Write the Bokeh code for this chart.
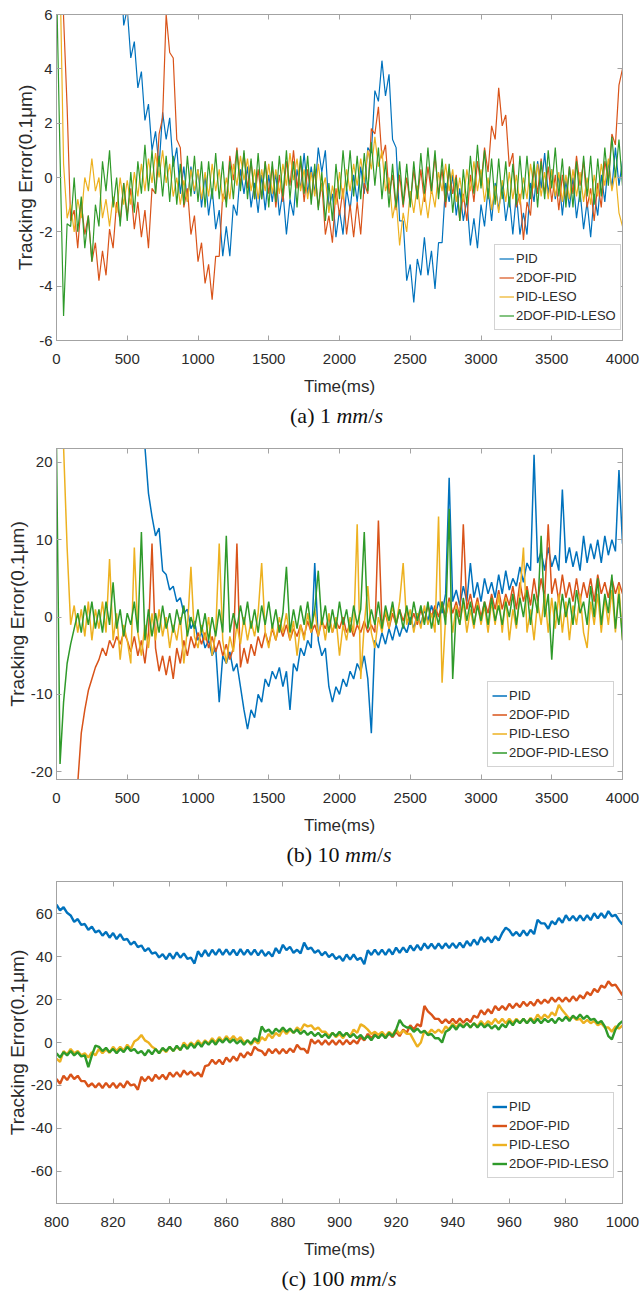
from bokeh.plotting import figure
from bokeh.layouts import column
from bokeh.models import Range1d, FixedTicker, LinearAxis, Legend, LegendItem, Div
from bokeh.embed import file_html
from bokeh.resources import INLINE

names = ["PID", "2DOF-PID", "PID-LESO", "2DOF-PID-LESO"]
colors = ["#0072BD", "#D95319", "#EDB120", "#2F9A2A"]

# ---------------- panel (a): 1 mm/s ----------------
time_a = list(range(0, 4001, 25))
pid_a = [
    40.6, 37.4, 35.6, 31.4, 29.6, 25.4, 24.6, 21.4, 20.6, 17.4,
    17.1, 14.4, 14.6, 12.4, 12.1, 9.9, 10.1, 7.9, 8.1, 5.6,
    6.2, 4.4, 5.0, 3.3, 3.9, 2.1, 2.7, 1.0, 1.7, 0.4,
    2.4, 1.4, 2.2, 0.4, 1.1, -0.6, 0.4, -0.9, 0.4, -0.6,
    0.3, -1.1, 0.1, -1.4, -0.4, -1.9, -1.2, -2.9, -1.8, -2.9,
    -1.0, -1.4, 0.3, -0.6, 0.4, -1.1, -0.2, -1.3, 0.1, -1.2,
    0.1, -0.9, 0.2, -1.4, -0.5, -2.1, -0.8, -1.4, 0.3, -0.4,
    0.9, -0.6, 0.4, -0.6, 1.1, 0.2, 1.0, -1.1, -0.6, -2.2,
    -1.2, -2.1, -0.4, -1.2, 0.1, -0.9, 0.4, -0.6, 1.1, 0.9,
    3.2, 2.8, 4.3, 3.0, 3.8, 1.4, 1.1, -1.6, -1.6, -3.8,
    -3.2, -4.6, -3.0, -3.6, -2.2, -3.6, -2.7, -4.1, -2.4, -2.4,
    -0.2, -0.9, 0.1, -1.4, -0.4, -1.6, -0.8, -2.5, -1.5, -2.6,
    -1.0, -1.8, -0.4, -1.6, -0.2, -1.2, -0.2, -1.6, -0.7, -2.1,
    -0.6, -2.1, -1.3, -2.1, -0.2, -0.9, 0.6, -0.4, 0.9, -0.6,
    0.3, -0.8, 0.1, -1.4, -0.1, -1.1, 0.0, -1.5, -0.5, -1.9,
    -0.9, -2.2, -0.6, -1.4, 0.1, -0.9, 0.6, -0.4, 1.1, -0.3,
    0.6]
dof_a = [
    19.4, 15.6, 5.9, 2.6, -1.6, -1.2, -2.6, -0.9, -2.1, -1.4,
    -3.1, -2.4, -3.8, -2.7, -3.6, -1.9, -2.6, -0.9, -1.6, -0.2,
    -1.4, -0.4, -1.9, -0.9, -2.2, -1.2, -2.6, -0.4, -0.6, 1.6,
    2.2, 6.0, 4.6, 4.4, 1.4, 1.1, -1.1, -0.4, -2.1, -1.4,
    -3.1, -2.4, -3.9, -3.2, -4.5, -2.9, -2.9, -0.6, -0.9, 0.8,
    -0.1, 1.1, -0.3, 0.9, -0.4, 0.6, -0.8, 0.3, -0.8, 0.6,
    -0.6, 0.4, -1.1, 0.1, -0.9, 0.6, -0.3, 1.0, -0.4, 0.6,
    -0.9, 0.3, -0.8, 0.3, -1.1, -0.2, -2.1, -1.4, -2.4, -0.4,
    -1.4, -0.4, -2.1, -1.0, -2.2, -0.9, -2.1, -0.2, -0.6, 1.8,
    1.6, 2.6, 0.7, 1.2, -0.6, 0.1, -1.2, 0.1, -1.1, 0.0,
    -1.0, 0.3, -0.8, 0.3, -0.9, 0.4, -0.6, 0.8, -0.6, 0.3,
    -1.1, 0.3, -0.6, 0.1, -1.6, -0.6, -1.6, 0.1, -0.9, 0.6,
    -0.3, 1.1, 0.2, 1.9, 1.4, 3.3, 1.9, 2.3, 0.4, 0.9,
    -1.1, -0.6, -2.3, -0.9, -1.4, 0.4, -0.6, 0.7, -0.6, 0.4,
    -0.9, 0.1, -1.2, 0.1, -0.9, 0.4, -0.6, 0.8, -0.3, 0.6,
    -1.1, -0.4, -1.6, -0.2, -1.1, 0.6, -0.1, 1.6, 1.2, 3.4,
    4.0]
leso_a = [
    15.5, 7.5, 0.5, -1.5, -1.0, -2.0, -0.8, -1.5, 0.0, -0.5,
    0.7, -0.5, 0.0, -1.5, -0.8, -1.8, -0.7, -1.3, 0.0, -1.0,
    -0.1, -1.0, 0.2, -0.7, 0.5, -0.5, 0.7, -0.2, 0.9, 0.0,
    1.0, -0.2, 0.5, -0.7, 0.0, -1.0, -0.1, -0.9, 0.3, -0.5,
    0.3, -0.8, 0.2, -0.7, 0.5, -0.5, 0.3, -0.9, 0.0, -0.8,
    0.5, -0.3, 0.8, -0.1, 0.7, -0.5, 0.3, -0.8, 0.3, -0.5,
    0.5, -0.6, 0.3, -0.6, 0.5, -0.3, 0.9, -0.1, 0.7, -0.5,
    0.3, -0.8, 0.2, -0.7, 0.5, -0.5, 0.0, -1.3, -0.3, -1.0,
    0.2, -0.8, 0.3, -0.5, 0.5, -0.3, 0.7, -0.2, 1.0, 0.3,
    1.5, 0.4, 1.0, -0.5, 0.0, -1.5, -0.8, -2.5, -1.3, -2.0,
    -0.5, -1.3, -0.3, -1.4, -0.5, -1.5, -0.4, -1.1, 0.2, -0.5,
    0.5, -0.5, 0.3, -0.9, 0.0, -0.9, 0.3, -0.5, 0.6, -0.5,
    0.3, -0.9, 0.0, -1.2, -0.3, -1.3, -0.1, -0.9, 0.2, -0.8,
    0.1, -1.0, 0.0, -0.8, 0.5, -0.4, 0.5, -0.7, 0.2, -0.8,
    0.3, -0.7, 0.2, -0.9, 0.1, -0.8, 0.3, -0.7, 0.2, -0.9,
    0.0, -1.0, 0.1, -0.7, 0.5, -0.3, 0.7, -0.5, 0.2, -1.3,
    -1.8]
dofleso_a = [
    7.2, 0.8, -5.1, -1.7, -1.8, 0.0, -2.0, -0.7, -2.6, -1.4,
    -3.1, -1.0, -1.8, 0.6, -0.5, 1.0, -1.1, 0.0, -1.8, -0.2,
    -1.6, 0.2, -1.3, 0.6, -0.6, 1.2, -0.5, 1.0, -0.6, 0.8,
    -0.7, 0.8, -0.9, 0.8, -1.0, 0.5, -1.0, 0.8, -0.7, 0.8,
    -0.9, 0.6, -1.1, 0.6, -0.8, 0.9, -0.8, 0.6, -1.1, 0.6,
    -0.8, 1.0, -0.5, 1.0, -0.8, 0.7, -0.8, 0.9, -0.8, 0.6,
    -1.1, 0.6, -0.9, 0.8, -0.7, 1.0, -0.8, 0.6, -1.1, 0.8,
    -0.6, 0.8, -1.0, 0.5, -1.2, 0.2, -1.6, -0.2, -1.6, 0.5,
    -0.8, 1.0, -0.5, 1.0, -0.7, 0.8, -0.8, 0.9, -0.5, 1.3,
    -0.3, 1.1, -0.8, 0.6, -1.1, 0.5, -1.1, 0.6, -1.0, 0.5,
    -1.1, 0.6, -0.8, 0.9, -0.6, 1.1, -0.5, 1.0, -0.8, 0.7,
    -0.9, 0.5, -1.3, 0.0, -1.6, 0.3, -1.0, 0.8, -0.6, 1.2,
    -0.4, 1.0, -0.8, 0.7, -1.0, 0.7, -0.8, 0.6, -1.1, 0.5,
    -1.0, 0.8, -0.8, 0.8, -0.8, 0.6, -1.1, 0.6, -0.8, 1.0,
    -0.4, 1.1, -0.7, 0.7, -1.1, 0.4, -1.1, 0.6, -0.9, 0.8,
    -0.7, 0.8, -1.0, 0.7, -0.7, 1.1, -0.3, 1.5, 0.0, 1.4,
    -0.3]

# ---------------- panel (b): 10 mm/s ----------------
time_b = list(range(0, 4001, 25))
pid_b = [
    60, 57, 54, 51, 48, 46, 44, 42, 40, 38,
    37, 35, 34, 33, 32, 31, 30, 29, 28, 27,
    26, 25, 24.5, 24, 23, 22, 16, 13, 10.5, 11.5,
    6, 5.5, 3.5, 4, 2, 2.5, 0.5, 1, -1.5, -0.5,
    -3, -2, -4, -3, -5, -4, -11, -5, -6, -4.5,
    -7, -6, -9, -12, -14.5, -12, -13, -10, -11, -8,
    -9, -7, -8, -6.5, -9, -7, -12, -6, -7, -4,
    -5, -3, -4, 7, -3, -5, -4, -9, -11, -9,
    -10, -8, -9, -7, -8, -6, -7, -5, -8, -15,
    -3, -4, -2, -3.5, -1.5, -3, -1, -2.5, -1, -2,
    0, -1.5, 0.5, -1, 1, -0.5, 1.5, 0, 2, 0.5,
    3, 18, 2, 3.5, 1.5, 4, 2, 7, 2.5, 4.5,
    2, 5, 3, 4.5, 2.5, 5.5, 3, 6, 3.5, 5,
    4, 6.5, 4.5, 7, 6, 21, 7, 8.5, 6, 9,
    6.5, 8, 6, 16.5, 7, 9, 6.5, 8.5, 6, 10.5,
    7, 9.5, 7.5, 10, 7, 10.5, 8, 10, 8.5, 19,
    9.5]
dof_b = [
    -60, -55, -50, -44, -38, -30, -21.5, -15, -12, -9.5,
    -8, -6.5, -5.5, -4, -5, -3, -4, -2.5, -3.5, -2,
    -3, -4.5, -2.5, -5, -3, -6, -2, 9.5, -4, -7,
    -5, -7.5, -5, -8, -4, -6, -3, -5, -2.5, -4,
    -2, -3.5, -2, -4, -2.5, -4.5, -3, -5, -3.5, -5.5,
    -4, 9.5, -6.5, -4, -6, -3.5, -5, -2.5, -4, -2,
    -3.5, -1.5, -3, -1, -2.5, -1, -3, -1.5, -2.5, -1,
    -2.5, -0.5, -2, -1, -2.5, -0.5, -1.5, 0, -2, -0.5,
    -1.5, 0, -2, -1, -2.5, -1, -2, -0.5, -2, -1,
    -2, 12.5, -1, 0.5, -1.5, 0.5, -1, 1, -0.5, 1,
    -1, 0.5, -1, 1, -0.5, 1.5, 0, 1.5, 0, 2,
    0, 2.5, 0.5, 2, 0, 12, 1, 3, 0.5, 2.5,
    0, 2, 0.5, 3, 1, 3.5, 1, 3, 1.5, 4,
    1, 4.5, 2, 4, 1.5, 5, 2, 5, 2.5, 12,
    3, 5, 2, 5.5, 2.5, 4.5, 2, 5, 2, 4.5,
    2.5, 5, 2, 5.5, 3, 4.5, 2.5, 5, 3, 4.5,
    3]
leso_b = [
    40, 32, 22, 9, -1, 1.5, -2, 1, -2.5, 2,
    -3, 1, -1.5, 2, -2, 7.5, -3, 0.5, -5.5, -1,
    -3, -6, 9, -2, -5, -1, -4, 0.5, -3, 1,
    -2.5, 0, -4, -1, -3, 0, -6, -1.5, 6.5, -2.5,
    -4, -1, -3, 0, -5, -2, 9.5, -3, -6, -2.5,
    -4.5, -1, -3.5, 0, -3, -0.5, -2.5, 0.5, 7, -2,
    -4, -1, -3, 0, -2, 0.5, -3, -0.5, -5, -1,
    -3, 0.5, -2, 1, -2.5, 0, -3, 0.5, -2, 0,
    -5, -1, -3, 0, -2, 12, -8, -1, 4, -2,
    -4, 0, -2, 1, -1.5, 1.5, -1, 2, 7, -1,
    1, -2, 0.5, -1.5, 1.5, -1, 0.5, -2, 13, -8.5,
    0, 2, -2, 1.5, -1, 2, -2, 1, -1.5, 2,
    -1, 1.5, -2, 2, -1, 3, -2, 2.5, -3, 1,
    -1.5, 3, 9, -2, 1, -3, 2, -1, 3, -2,
    2.5, -1.5, 3, -2, 2, -3, 1.5, -1, 3, -2,
    -4, 2, -1, 3, -2, 2.5, -1, 3.5, -2, 4,
    -3]
dofleso_b = [
    22, -19, -11, -6, -3.5, -1.5, 0.5, -2, 1.5, -1,
    2, -1.5, 1, -2, 2, -1, 4.5, -1.5, 1, -2.5,
    0.5, -1, 2, -2, 11, -3, 1, -2.5, 0.5, -2,
    1.5, -1.5, 0.5, -2, 1, -1, 1.5, -2.5, 0, -1.5,
    1, -2, 0.5, -3, 0, -2.5, 1, -2, 10.5, -2,
    0.5, -1.5, 1.5, -1, 2, -1.5, 1, -2, 1.5, -1,
    2, -1.5, 1, -2, 0.5, 6.5, -2, 1, -1.5, 1.5,
    -1, 2, -1.5, 1, 6, -1, 1.5, -2, 1, -1.5,
    2, -1, 1, -2, 1.5, -1, 1, 11, -1.5, 1,
    -1, 2, -1.5, 1.5, -0.5, 2, -1, 1, -1.5, 1.5,
    -1, 2, -0.5, 1.5, -1, 2, -1.5, 1, -1, 2,
    -1, 14, -8, 1, -1, 2.5, -0.5, 2, -1, 1.5,
    -0.5, 2, -1, 2.5, -0.5, 1.5, -1, 2, 0, 3,
    -1, 2.5, 0, 3.5, -1, 3, 0.5, 10.5, 0, 3,
    -5.5, 2, -1, 3, 0, 2.5, -1, 3.5, 0.5, 2,
    -1, 4, 0, 5, -1, 3, 0.5, 5.5, -1.5, 3,
    -3]

# ---------------- panel (c): 100 mm/s ----------------
time_c = [800 + 1.25 * i for i in range(161)]
pid_c = [
    64.2, 61.5, 63.0, 60.4, 59.2, 56.2, 57.5, 54.8,
    55.2, 52.5, 54.0, 51.3, 52.2, 49.8, 51.5, 48.8,
    51.0, 48.2, 50.5, 47.8, 48.2, 45.6, 47.0, 44.4,
    45.2, 42.6, 44.0, 41.4, 42.0, 39.6, 41.2, 38.8,
    41.5, 39.0, 42.0, 39.5, 41.5, 39.0, 39.5, 36.8,
    42.5, 40.0, 43.0, 40.2, 43.2, 40.8, 43.5, 40.8,
    43.4, 40.8, 43.2, 40.6, 43.5, 40.8, 43.2, 40.8,
    43.3, 40.6, 43.0, 40.3, 42.2, 40.0, 44.0, 41.5,
    45.5, 43.0, 44.6, 41.8, 43.2, 41.5, 46.5, 43.5,
    44.2, 41.8, 43.0, 40.6, 42.2, 39.8, 41.3, 38.8,
    40.2, 38.0, 41.0, 38.6, 41.0, 38.5, 39.5, 36.5,
    43.0, 40.8, 43.3, 40.8, 43.3, 40.8, 43.5, 41.0,
    44.2, 41.8, 44.3, 42.0, 45.2, 42.8, 45.5, 43.0,
    46.2, 43.8, 46.0, 43.6, 46.2, 43.8, 46.2, 44.0,
    46.3, 44.0, 46.5, 44.2, 47.3, 45.0, 48.0, 45.5,
    49.2, 46.8, 49.0, 46.6, 49.5, 47.5, 51.0, 53.5,
    52.3, 49.8, 51.5, 49.5, 52.2, 49.8, 52.5, 50.5,
    57.2, 55.5, 55.5, 53.0, 56.5, 55.0, 58.0, 55.8,
    59.3, 56.8, 59.0, 56.7, 59.2, 56.8, 59.3, 57.0,
    60.2, 57.8, 60.2, 58.0, 61.2, 58.8, 59.5, 57.0,
    55.0]
dof_c = [
    -17.0, -19.2, -15.5, -17.5, -14.8, -17.0, -15.5, -18.0,
    -18.0, -20.5, -19.0, -21.0, -19.0, -21.2, -18.8, -21.0,
    -18.8, -21.2, -19.0, -21.0, -18.0, -20.0, -19.5, -22.0,
    -16.0, -18.0, -15.8, -18.0, -15.0, -17.0, -15.0, -17.2,
    -14.0, -16.0, -13.8, -16.0, -13.0, -15.0, -13.5, -15.5,
    -14.0, -16.0, -11.0, -10.5, -8.0, -10.0, -8.0, -10.2,
    -7.0, -9.0, -6.5, -8.5, -5.0, -7.0, -4.5, -6.0,
    -2.0, -3.5, -4.0, -6.0, -3.0, -5.0, -3.0, -5.2,
    -3.0, -5.0, -2.8, -4.5, -1.0, -3.0, -3.0, -5.0,
    1.5, -0.5, 1.0, -1.0, 1.0, -1.0, 1.0, -1.0,
    1.0, -1.0, 1.2, -0.8, 1.0, -0.5, 2.5, 1.0,
    4.0, 2.0, 4.0, 2.2, 4.0, 2.2, 4.2, 2.5,
    5.0, 3.0, 6.0, 4.5, 8.0, 6.0, 8.5, 7.5,
    17.0, 14.5, 13.0, 11.0, 11.0, 9.0, 10.8, 9.0,
    11.0, 9.0, 11.2, 9.2, 11.0, 9.5, 12.5, 11.5,
    15.0, 13.0, 15.5, 13.5, 17.0, 15.0, 17.0, 15.2,
    18.0, 16.0, 18.2, 16.5, 19.0, 17.0, 19.0, 17.2,
    20.0, 18.0, 20.0, 18.5, 21.0, 19.0, 21.0, 19.0,
    21.0, 19.0, 21.5, 19.5, 22.0, 20.5, 23.5, 22.0,
    25.0, 23.5, 26.5, 25.5, 28.5, 26.5, 27.0, 24.5,
    22.0]
leso_c = [
    -7.5, -9.0, -4.0, -5.5, -3.0, -5.0, -4.0, -6.0,
    -5.0, -7.0, -4.5, -6.0, -3.0, -5.0, -3.2, -4.8,
    -2.0, -4.0, -2.0, -3.8, -1.0, -3.0, 0.5, 1.5,
    3.5, 1.0, 0.0, -2.0, -3.0, -5.0, -3.0, -4.5,
    -2.0, -4.0, -2.0, -3.5, 0.0, -2.0, 0.0, -1.5,
    1.0, -1.0, 1.0, -0.5, 2.0, 0.0, 2.5, 0.5,
    3.0, 1.0, 3.0, 1.0, 2.5, 0.0, 1.0, -1.0,
    1.0, -0.5, 2.5, 1.0, 4.0, 2.0, 4.5, 3.0,
    6.0, 4.0, 6.0, 4.5, 7.0, 5.5, 8.5, 7.5,
    8.0, 6.0, 7.0, 5.0, 5.0, 3.0, 4.5, 2.5,
    4.0, 2.0, 4.5, 3.0, 6.0, 4.5, 8.5, 7.5,
    6.0, 4.0, 5.0, 3.5, 5.0, 3.0, 5.0, 3.5,
    6.0, 4.0, 5.5, 4.0, 4.0, 1.0, -2.0, 0.0,
    5.5, 4.0, 6.0, 4.5, 6.0, 4.5, 7.5, 6.0,
    9.0, 7.0, 9.0, 7.5, 9.0, 7.0, 9.0, 7.5,
    10.0, 8.0, 10.0, 8.5, 11.0, 9.0, 11.0, 9.0,
    11.0, 9.0, 11.0, 9.2, 11.0, 9.0, 11.5, 10.0,
    13.0, 11.0, 13.0, 11.5, 14.0, 12.5, 17.5, 15.0,
    13.0, 11.0, 12.0, 10.5, 11.0, 9.0, 10.5, 9.0,
    10.0, 8.0, 9.0, 7.0, 7.0, 5.0, 7.5, 6.5,
    8.0]
dofleso_c = [
    -5.0, -7.0, -4.5, -6.0, -4.0, -6.0, -4.5, -6.5,
    -6.0, -11.5, -6.0, -1.5, -2.0, -4.0, -2.5, -4.5,
    -3.0, -5.0, -3.0, -4.5, -2.0, -4.0, -3.0, -5.0,
    -4.0, -6.0, -3.5, -5.5, -3.0, -5.0, -2.5, -4.0,
    -2.0, -4.0, -1.5, -3.5, -1.0, -3.0, -0.5, -2.5,
    0.0, -2.0, 0.5, -1.0, 1.0, -1.0, 1.5, 0.0,
    2.0, 0.0, 1.5, -0.5, 1.0, -1.0, 1.0, -0.5,
    2.0, 0.5, 7.5, 5.0, 6.0, 4.0, 6.5, 5.0,
    7.0, 5.0, 6.5, 4.5, 6.0, 4.0, 5.5, 3.5,
    5.0, 3.0, 4.5, 2.5, 4.0, 2.0, 4.5, 3.0,
    5.0, 3.0, 4.5, 2.5, 4.0, 2.0, 3.5, 1.5,
    3.0, 1.0, 3.5, 2.0, 4.0, 2.0, 4.5, 3.0,
    6.0, 10.5, 8.0, 7.0, 7.0, 5.0, 6.5, 4.5,
    5.5, 3.5, 4.0, 2.0, 2.0, 0.0, 5.0, 6.0,
    8.0, 6.0, 8.5, 7.0, 9.0, 7.0, 9.0, 7.0,
    9.0, 7.0, 8.5, 6.5, 8.0, 6.0, 8.5, 7.0,
    10.0, 8.0, 10.5, 9.0, 11.0, 9.0, 11.0, 9.0,
    11.0, 9.0, 11.0, 9.5, 11.0, 9.0, 11.5, 10.0,
    12.0, 10.0, 12.5, 11.0, 13.0, 11.0, 12.5, 10.5,
    11.0, 9.0, 10.0, 7.5, 3.0, 1.5, 6.0, 8.5,
    10.0]

xticks_ab = [0, 500, 1000, 1500, 2000, 2500, 3000, 3500, 4000]
yticks_a = [-6, -4, -2, 0, 2, 4, 6]
yticks_b = [-20, -10, 0, 10, 20]
xticks_c = [800, 820, 840, 860, 880, 900, 920, 940, 960, 980, 1000]
yticks_c = [-60, -40, -20, 0, 20, 40, 60]

FRAME = "#a3a3a3"
TXT = "#2b2b2b"
SANS = "Liberation Sans"


def make_panel(x, ys, xr, yr, xticks, yticks, left, top, fw, fh, lw, leg_xy):
    right, bottom = 17, 59
    p = figure(width=left + fw + right, height=top + fh + bottom,
               x_range=Range1d(*xr), y_range=Range1d(*yr),
               output_backend="svg", toolbar_location=None,
               min_border_left=left, min_border_right=right,
               min_border_top=top, min_border_bottom=bottom)
    p.xgrid.visible = False
    p.ygrid.visible = False
    p.outline_line_color = FRAME
    p.outline_line_width = 1
    p.background_fill_color = "white"
    p.border_fill_color = "white"

    items = []
    for y, n, c in zip(ys, names, colors):
        r = p.line(x, y, line_color=c, line_width=lw)
        items.append(LegendItem(label=n, renderers=[r]))

    for ax, ticks in ((p.xaxis[0], xticks), (p.yaxis[0], yticks)):
        ax.ticker = FixedTicker(ticks=ticks)
        ax.major_label_overrides = {t: str(t) for t in ticks}
        ax.axis_line_color = FRAME
        ax.major_tick_line_color = FRAME
        ax.minor_tick_line_color = None
        ax.major_tick_in = 5
        ax.major_tick_out = 0
        ax.major_label_text_font = SANS
        ax.major_label_text_font_size = "15px"
        ax.major_label_text_color = TXT
        ax.axis_label_text_font_style = "normal"
        ax.axis_label_text_color = TXT
        ax.axis_label_text_font = SANS

    p.xaxis.major_label_standoff = 13
    p.yaxis.major_label_standoff = 4
    p.xaxis.axis_label = "Time(ms)"
    p.xaxis.axis_label_text_font_size = "17px"
    p.xaxis.axis_label_standoff = 10
    p.yaxis.axis_label = "Tracking Error(0.1\u03bcm)"
    p.yaxis.axis_label_text_font_size = "19px"
    p.yaxis.axis_label_standoff = 0

    for ticks, place in ((xticks, "above"), (yticks, "right")):
        ax = LinearAxis(ticker=FixedTicker(ticks=ticks),
                        major_label_text_font_size="1px",
                        major_label_text_color=None,
                        major_label_standoff=0,
                        major_tick_in=5, major_tick_out=0,
                        major_tick_line_color=FRAME,
                        minor_tick_line_color=None,
                        axis_line_color=FRAME)
        p.add_layout(ax, place)

    leg = Legend(items=items, location=leg_xy,
                 label_text_font=SANS, label_text_font_size="13px",
                 label_text_color=TXT,
                 glyph_width=15, glyph_height=19, label_height=19,
                 label_standoff=2, spacing=0, padding=4, margin=0,
                 border_line_color="#a8a8a8", border_line_width=1,
                 background_fill_color="white", background_fill_alpha=1)
    p.add_layout(leg)
    return p


def caption(txt, left, fw, h, lh, extra=""):
    html = ('<div style="width:%dpx;margin-left:%dpx;text-align:center;'
            'font-family:\'Liberation Serif\',\'Times New Roman\',serif;'
            'font-size:22px;line-height:%dpx;color:#111;white-space:nowrap;%s">%s</div>'
            % (fw, left, lh, extra, txt))
    return Div(text=html, width=639, height=h, margin=0)


p_a = make_panel(time_a, [pid_a, dof_a, leso_a, dofleso_a], (0, 4000), (-6, 6),
                 xticks_ab, yticks_a, 51, 14, 571, 326, 1.2, (438, 10))
p_b = make_panel(time_b, [pid_b, dof_b, leso_b, dofleso_b], (0, 4000), (-21, 21.8),
                 xticks_ab, yticks_b, 56, 15, 566, 331, 1.5, (431, 12))
p_c = make_panel(time_c, [pid_c, dof_c, leso_c, dofleso_c], (800, 1000), (-75, 75),
                 xticks_c, yticks_c, 56, 9, 566, 322, 2.4, (431, 25))

cap_a = caption("(a) 1 <i>mm</i>/<i>s</i>", 51, 571, 34, 34)
cap_b = caption("(b) 10 <i>mm</i>/<i>s</i>", 56, 566, 34, 34)
cap_c = caption("(c) 100 <i>mm</i>/<i>s</i>", 56, 566, 29, 29,
                "position:relative;top:2px;")

layout = column(p_a, cap_a, p_b, cap_b, p_c, cap_c, spacing=0)
open("out.html", "w").write(file_html(layout, INLINE, title="Tracking error"))
